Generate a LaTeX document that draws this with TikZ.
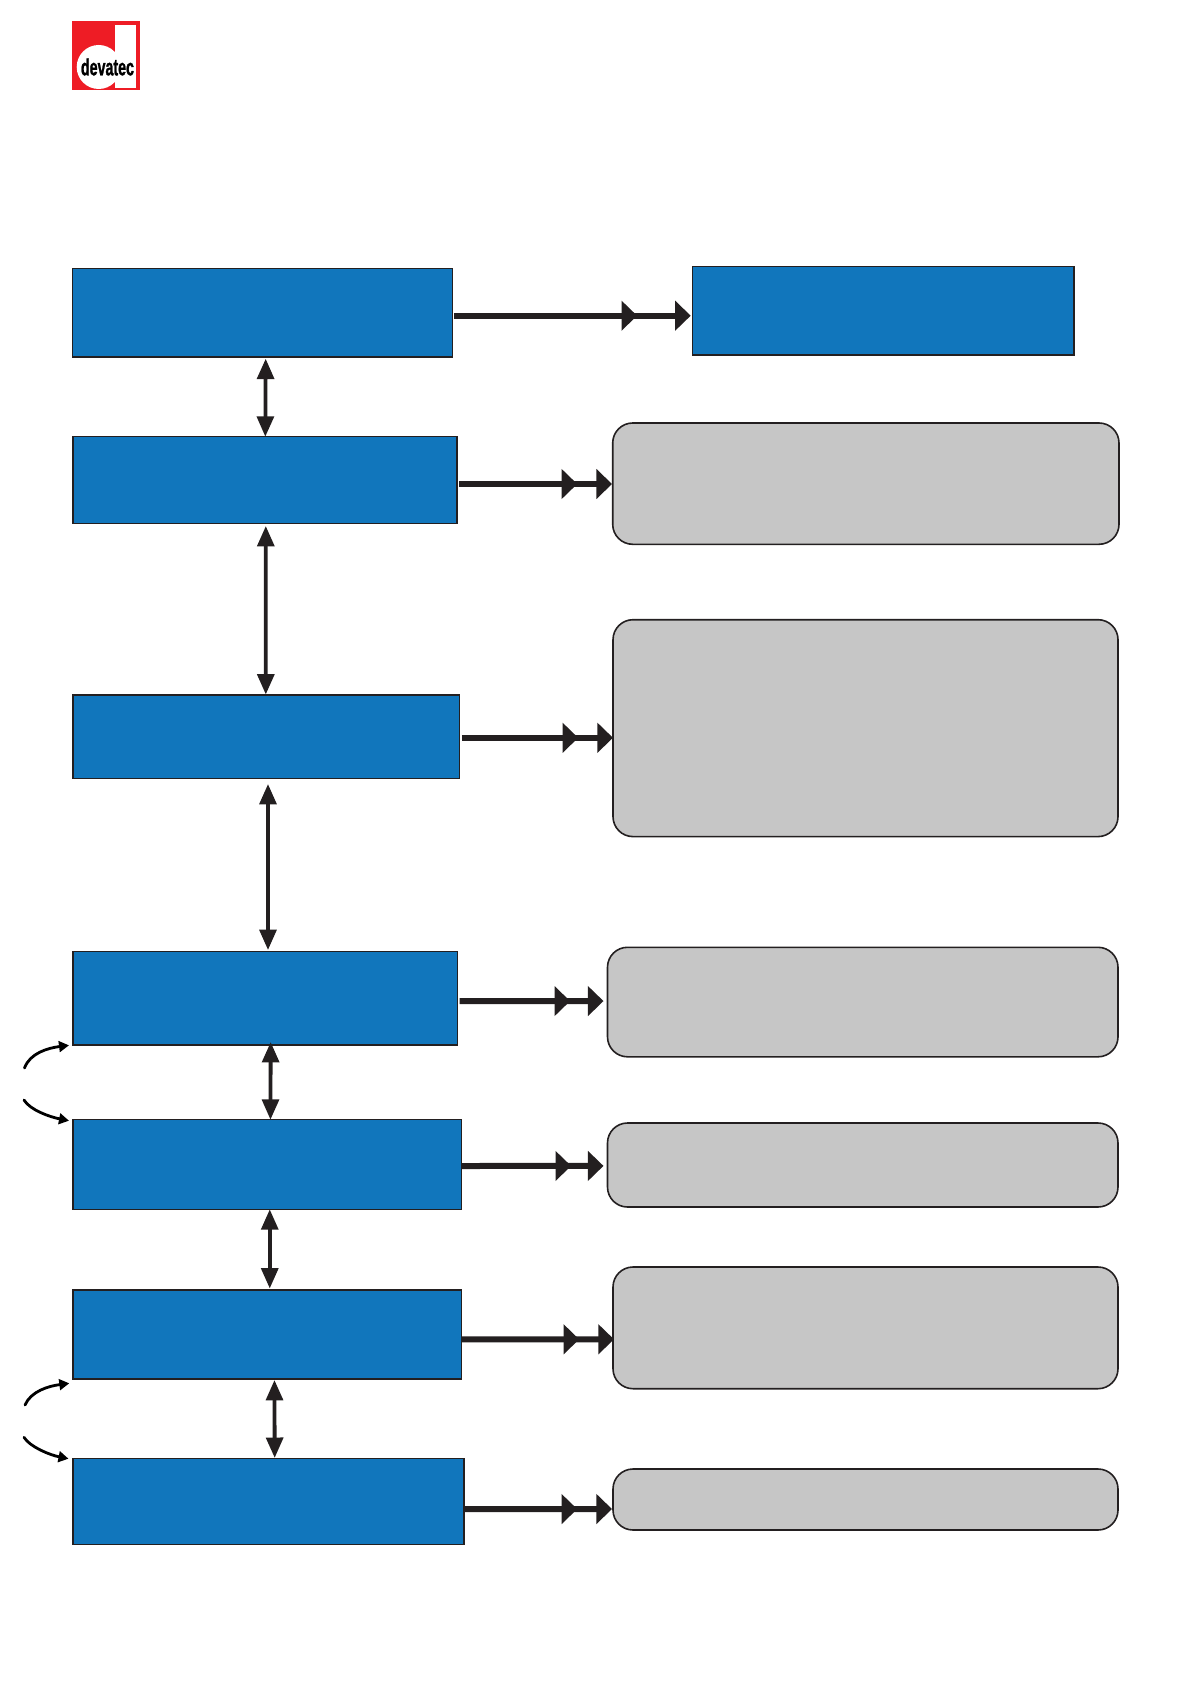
\documentclass[tikz,border=0pt]{standalone}
\usepackage{fontspec}
\usepackage{graphicx}
\setmainfont{Liberation Sans}
\newfontfamily\logofont[FakeBold=1.6]{Liberation Sans Bold}
\usetikzlibrary{arrows.meta,decorations.markings}
\definecolor{boxblue}{HTML}{1176BC}
\definecolor{boxgrey}{HTML}{C6C6C6}
\definecolor{ink}{HTML}{231F20}
\definecolor{logored}{HTML}{EE1C25}
\newcommand{\bx}[7][]{\node[#3,#1,minimum width={(#6-#4)*0.5pt},minimum height={(#7-#5)*0.5pt}] (#2) at ({(#4+#6)/2},{(#5+#7)/2}) {};}
\tikzset{
  x=0.5pt,y=-0.5pt,
  bluebox/.style={draw=ink,fill=boxblue,line width=0.7pt,inner sep=0pt,outer sep=0pt},
  greybox/.style={draw=ink,fill=boxgrey,line width=0.8pt,inner sep=0pt,outer sep=0pt,rounded corners=10pt},
  flow/.style={draw=ink,line width=3pt,-{Triangle[length=7.8pt,width=14.6pt]},postaction={decorate},
    decoration={markings,mark=at position -#1 with {\arrow{Triangle[length=7.8pt,width=14.6pt]}}}},
  flow/.default=17.4pt,
  link/.style={draw=ink,line width=1.9pt,{Triangle[length=10.2pt,width=8.4pt]}-{Triangle[length=10.2pt,width=8.4pt]}},
  sidearrow/.style={draw=black,line width=1.4pt,line cap=round,-{Triangle[length=5pt,width=5.4pt]}},
}
\begin{document}
\begin{tikzpicture}
\useasboundingbox (0,0) rectangle (1191,1684);
% logo
\node[fill=logored,inner sep=0pt,outer sep=0pt,minimum width=34pt,minimum height=34.5pt] (logo) at (106,55.5) {};
\path[fill=white] (98.7,67) circle[radius=22];
\path[fill=white] (115,25) rectangle (135.7,87.7);
\node[inner sep=0pt,text=black] (logotext) at (107.5,67) {\resizebox{26.5pt}{8.4pt}{\logofont devatec}};
% left column
\bx{b1}{bluebox}{72.5}{268.7}{452.3}{357}
\bx{b2}{bluebox}{73}{436.7}{457}{523.3}
\bx{b3}{bluebox}{73}{695}{459.5}{778.6}
\bx{b4}{bluebox}{73}{951.5}{457.5}{1045}
\bx{b5}{bluebox}{73}{1119.7}{461.3}{1209.3}
\bx{b6}{bluebox}{73}{1290}{461.3}{1379}
\bx{b7}{bluebox}{73}{1458.7}{464}{1544.5}
% right column
\bx{r}{bluebox}{692.7}{266.7}{1074}{355}
\bx{g1}{greybox}{612.7}{423}{1119}{544.3}
\bx{g2}{greybox}{613}{619.7}{1118}{836.6}
\bx{g3}{greybox}{607.5}{947.3}{1118}{1056.8}
\bx{g4}{greybox}{607.5}{1123}{1118}{1207}
\bx{g5}{greybox}{613}{1267}{1118}{1388.7}
\bx{g6}{greybox}{613}{1469}{1118}{1530}
% horizontal flows
\path[flow=26.8pt] ([shift={(2,2.85)}]b1.east) -- ([shift={(-2,4.85)}]r.west);
\path[flow] ([shift={(2,4)}]b2.east) -- ([shift={(-0.7,0.35)}]g1.west);
\path[flow] ([shift={(2.3,1)}]b3.east) -- ([shift={(0,9.65)}]g2.west);
\path[flow=16.7pt] ([shift={(2.2,2.9)}]b4.east) -- ([shift={(-4,-1)}]g3.west);
\path[flow=16.2pt] ([shift={(0,1.5)}]b5.east) -- ([shift={(-4,0.9)}]g4.west);
\path[flow] ([shift={(0,4.8)}]b6.east) -- ([shift={(1,11.45)}]g5.west);
\path[flow] ([shift={(1,7.5)}]b7.east) -- ([shift={(-1,9.5)}]g6.west);
% vertical links
\path[link] ([shift={(3.3,1.7)}]b1.south) -- ([shift={(0.3,0)}]b2.north);
\path[link] ([shift={(0.8,2.7)}]b2.south) -- ([shift={(-0.45,-0.5)}]b3.north);
\path[link] ([shift={(1.75,5.4)}]b3.south) -- ([shift={(2.75,-1.5)}]b4.north);
\path[link] ([shift={(5.45,-3)}]b4.south) -- ([shift={(3.3,0)}]b5.north);
\path[link] ([shift={(2.6,0)}]b5.south) -- ([shift={(2.6,-1.5)}]b6.north);
\path[link] ([shift={(7.3,1)}]b6.south) -- ([shift={(6.2,-0.8)}]b7.north);
% curved side arrows
\coordinate (c1) at (24.5,1068);
\coordinate (c2) at (24,1100);
\coordinate (c3) at (25,1405);
\coordinate (c4) at (24,1437.3);
\path[sidearrow] (c1) .. controls (30,1053) and (48,1048) .. ([shift={(-4,0.3)}]b4.south west);
\path[sidearrow] (c2) .. controls (30,1110) and (50,1117) .. ([shift={(-4,1)}]b5.north west);
\path[sidearrow] (c3) .. controls (31,1391) and (49,1386) .. ([shift={(-3.7,4.3)}]b6.south west);
\path[sidearrow] (c4) .. controls (30,1447) and (50,1455) .. ([shift={(-4.5,0)}]b7.north west);
\end{tikzpicture}
\end{document}
